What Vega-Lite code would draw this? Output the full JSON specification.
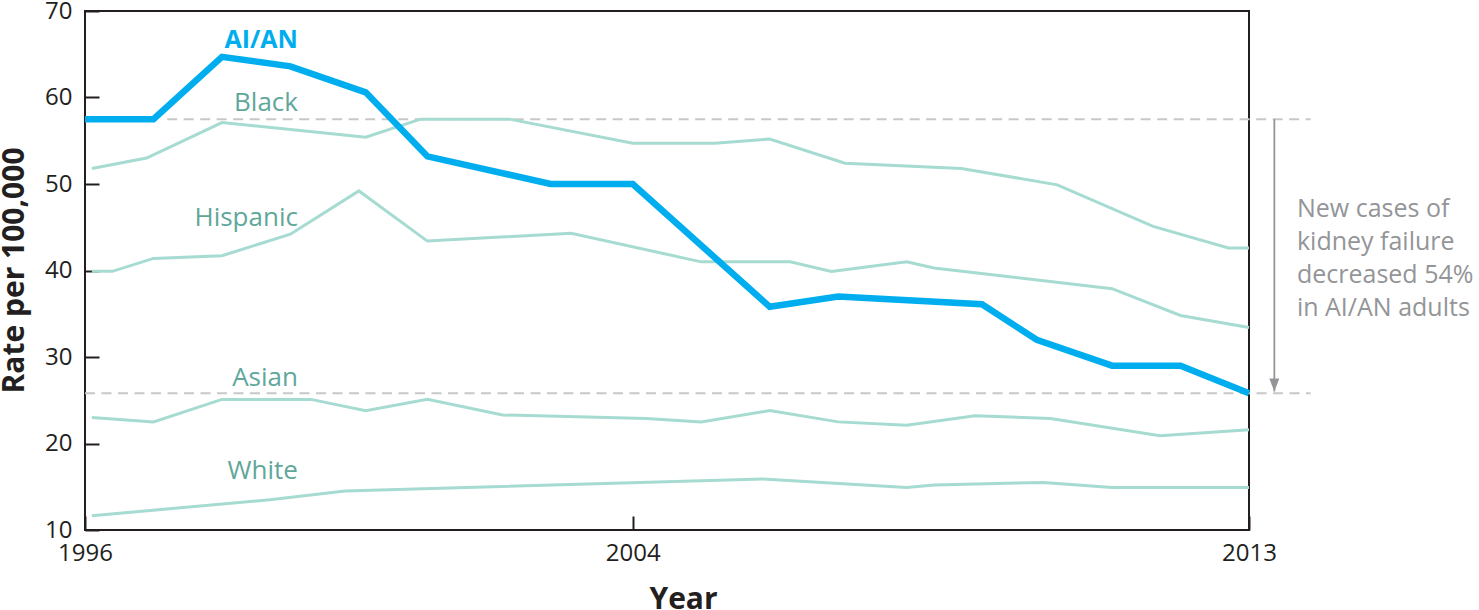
{
  "$schema": "https://vega.github.io/schema/vega-lite/v6.json",
  "width": 1164,
  "height": 519,
  "autosize": "none",
  "padding": {"left": 85, "top": 11, "right": 230, "bottom": 80},
  "background": "white",
  "config": {
    "font": "Open Sans",
    "view": {"stroke": "#231f20", "strokeWidth": 2}
  },
  "datasets": {
    "rates": [
      {"series": "AI/AN", "year": 1996, "rate": 57.5},
      {"series": "AI/AN", "year": 1997, "rate": 57.5},
      {"series": "AI/AN", "year": 1998, "rate": 64.7},
      {"series": "AI/AN", "year": 1999, "rate": 63.6},
      {"series": "AI/AN", "year": 2000.1, "rate": 60.6},
      {"series": "AI/AN", "year": 2001, "rate": 53.2},
      {"series": "AI/AN", "year": 2002.8, "rate": 50.0},
      {"series": "AI/AN", "year": 2004, "rate": 50.0},
      {"series": "AI/AN", "year": 2006, "rate": 35.8},
      {"series": "AI/AN", "year": 2007, "rate": 37.0},
      {"series": "AI/AN", "year": 2009.1, "rate": 36.1},
      {"series": "AI/AN", "year": 2009.9, "rate": 32.0},
      {"series": "AI/AN", "year": 2011, "rate": 29.0},
      {"series": "AI/AN", "year": 2012, "rate": 29.0},
      {"series": "AI/AN", "year": 2013, "rate": 25.8},
      {"series": "Black", "year": 1996.1, "rate": 51.8},
      {"series": "Black", "year": 1996.9, "rate": 53.0},
      {"series": "Black", "year": 1998, "rate": 57.1},
      {"series": "Black", "year": 2000.1, "rate": 55.4},
      {"series": "Black", "year": 2000.9, "rate": 57.5},
      {"series": "Black", "year": 2002.2, "rate": 57.5},
      {"series": "Black", "year": 2004, "rate": 54.7},
      {"series": "Black", "year": 2005.2, "rate": 54.7},
      {"series": "Black", "year": 2006, "rate": 55.2},
      {"series": "Black", "year": 2007.1, "rate": 52.4},
      {"series": "Black", "year": 2008.8, "rate": 51.8},
      {"series": "Black", "year": 2010.2, "rate": 49.9},
      {"series": "Black", "year": 2011.6, "rate": 45.1},
      {"series": "Black", "year": 2012.7, "rate": 42.6},
      {"series": "Black", "year": 2013, "rate": 42.6},
      {"series": "Hispanic", "year": 1996.1, "rate": 39.9},
      {"series": "Hispanic", "year": 1996.4, "rate": 39.9},
      {"series": "Hispanic", "year": 1997, "rate": 41.4},
      {"series": "Hispanic", "year": 1998, "rate": 41.7},
      {"series": "Hispanic", "year": 1999, "rate": 44.2},
      {"series": "Hispanic", "year": 2000, "rate": 49.2},
      {"series": "Hispanic", "year": 2001, "rate": 43.4},
      {"series": "Hispanic", "year": 2003.1, "rate": 44.3},
      {"series": "Hispanic", "year": 2005, "rate": 41.0},
      {"series": "Hispanic", "year": 2006.3, "rate": 41.0},
      {"series": "Hispanic", "year": 2006.9, "rate": 39.9},
      {"series": "Hispanic", "year": 2008, "rate": 41.0},
      {"series": "Hispanic", "year": 2008.4, "rate": 40.3},
      {"series": "Hispanic", "year": 2011, "rate": 37.9},
      {"series": "Hispanic", "year": 2012, "rate": 34.8},
      {"series": "Hispanic", "year": 2013, "rate": 33.4},
      {"series": "Asian", "year": 1996.1, "rate": 23.0},
      {"series": "Asian", "year": 1997, "rate": 22.5},
      {"series": "Asian", "year": 1998, "rate": 25.1},
      {"series": "Asian", "year": 1999.3, "rate": 25.1},
      {"series": "Asian", "year": 2000.1, "rate": 23.8},
      {"series": "Asian", "year": 2001, "rate": 25.1},
      {"series": "Asian", "year": 2002.1, "rate": 23.3},
      {"series": "Asian", "year": 2004.2, "rate": 22.9},
      {"series": "Asian", "year": 2005, "rate": 22.5},
      {"series": "Asian", "year": 2006, "rate": 23.8},
      {"series": "Asian", "year": 2007, "rate": 22.5},
      {"series": "Asian", "year": 2008, "rate": 22.1},
      {"series": "Asian", "year": 2009, "rate": 23.2},
      {"series": "Asian", "year": 2010.1, "rate": 22.9},
      {"series": "Asian", "year": 2011.7, "rate": 20.9},
      {"series": "Asian", "year": 2013, "rate": 21.6},
      {"series": "White", "year": 1996.1, "rate": 11.65},
      {"series": "White", "year": 1998.7, "rate": 13.5},
      {"series": "White", "year": 1999.8, "rate": 14.5},
      {"series": "White", "year": 2005.9, "rate": 15.9},
      {"series": "White", "year": 2008, "rate": 14.9},
      {"series": "White", "year": 2008.4, "rate": 15.2},
      {"series": "White", "year": 2010, "rate": 15.5},
      {"series": "White", "year": 2011, "rate": 14.9},
      {"series": "White", "year": 2013, "rate": 14.9}
    ],
    "refs": [
      {"year": 1997.2, "year2": 2013.9, "rate": 57.5},
      {"year": 1996, "year2": 2013.9, "rate": 25.8}
    ],
    "arrow": [
      {"year": 2013.37, "rate": 57.5, "rate2": 26.0}
    ],
    "labels": [
      {"series": "Black", "year": 1999.11, "rate": 58.44},
      {"series": "Hispanic", "year": 1999.11, "rate": 45.14},
      {"series": "Asian", "year": 1999.11, "rate": 26.65},
      {"series": "White", "year": 1999.11, "rate": 15.86}
    ],
    "mainLabel": [
      {"series": "AI/AN", "year": 1999.11, "rate": 65.69}
    ],
    "note": [
      {"text": "New cases of\nkidney failure\ndecreased 54%\nin AI/AN adults", "year": 2013.7, "rate": 46.18}
    ]
  },
  "layer": [
    {
      "data": {"name": "refs"},
      "mark": {"type": "rule", "color": "#c8c8c8", "strokeWidth": 2, "strokeDash": [10, 6.5]},
      "encoding": {
        "x": {"field": "year", "type": "quantitative"},
        "x2": {"field": "year2"},
        "y": {"field": "rate", "type": "quantitative"}
      }
    },
    {
      "data": {"name": "rates"},
      "transform": [{"filter": "datum.series !== 'AI/AN'"}],
      "mark": {"type": "line", "color": "#a6dbd2", "strokeWidth": 3},
      "encoding": {
        "x": {
          "field": "year", "type": "quantitative",
          "scale": {"domain": [1996, 2013], "nice": false, "zero": false},
          "axis": {
            "title": "Year",
            "values": [1996, 2004, 2013],
            "format": "d",
            "grid": false,
            "domain": false,
            "tickSize": -14,
            "tickWidth": 2,
            "tickColor": "#231f20",
            "labelPadding": 25,
            "labelFlush": false,
            "labelFontSize": 24,
            "labelColor": "#231f20",
            "labelFont": "Open Sans",
            "titleFont": "Open Sans",
            "titleFontSize": 30,
            "titleFontWeight": "bold",
            "titleColor": "#231f20",
            "titleX": 598,
            "titleY": 78,
            "titleBaseline": "alphabetic"
          }
        },
        "y": {
          "field": "rate", "type": "quantitative",
          "scale": {"domain": [10, 70], "nice": false, "zero": false},
          "axis": {
            "title": "Rate per 100,000",
            "values": [10, 20, 30, 40, 50, 60, 70],
            "grid": false,
            "domain": false,
            "tickSize": -14,
            "tickWidth": 2,
            "tickColor": "#231f20",
            "labelPadding": 27,
            "labelFlush": false,
            "labelFontSize": 24,
            "labelColor": "#231f20",
            "labelFont": "Open Sans",
            "titleFont": "Open Sans",
            "titleFontSize": 30,
            "titleFontWeight": "bold",
            "titleColor": "#231f20",
            "titleAngle": -90,
            "titleX": -62,
            "titleY": 259,
            "titleAlign": "center",
            "titleBaseline": "alphabetic"
          }
        },
        "detail": {"field": "series", "type": "nominal"}
      }
    },
    {
      "data": {"name": "rates"},
      "transform": [{"filter": "datum.series === 'AI/AN'"}],
      "mark": {"type": "line", "color": "#00aeef", "strokeWidth": 6.5},
      "encoding": {
        "x": {"field": "year", "type": "quantitative"},
        "y": {"field": "rate", "type": "quantitative"}
      }
    },
    {
      "data": {"name": "arrow"},
      "mark": {"type": "rule", "color": "#939598", "strokeWidth": 1.8},
      "encoding": {
        "x": {"field": "year", "type": "quantitative"},
        "y": {"field": "rate", "type": "quantitative"},
        "y2": {"field": "rate2"}
      }
    },
    {
      "data": {"name": "arrow"},
      "mark": {"type": "point", "shape": "M -0.77 -2 L 0.77 -2 L 0 0 Z", "size": 169, "filled": true, "color": "#939598", "opacity": 1},
      "encoding": {
        "x": {"field": "year", "type": "quantitative"},
        "y": {"field": "rate2", "type": "quantitative"}
      }
    },
    {
      "data": {"name": "labels"},
      "mark": {"type": "text", "align": "right", "baseline": "alphabetic", "fontSize": 26, "color": "#5fa79b", "font": "Open Sans"},
      "encoding": {
        "x": {"field": "year", "type": "quantitative"},
        "y": {"field": "rate", "type": "quantitative"},
        "text": {"field": "series"}
      }
    },
    {
      "data": {"name": "mainLabel"},
      "mark": {"type": "text", "align": "right", "baseline": "alphabetic", "fontSize": 25, "fontWeight": "bold", "color": "#00aeef", "font": "Open Sans"},
      "encoding": {
        "x": {"field": "year", "type": "quantitative"},
        "y": {"field": "rate", "type": "quantitative"},
        "text": {"field": "series"}
      }
    },
    {
      "data": {"name": "note"},
      "mark": {"type": "text", "align": "left", "baseline": "alphabetic", "fontSize": 25, "lineHeight": 33, "color": "#939598", "font": "Open Sans", "lineBreak": "\n"},
      "encoding": {
        "x": {"field": "year", "type": "quantitative"},
        "y": {"field": "rate", "type": "quantitative"},
        "text": {"field": "text"}
      }
    }
  ]
}
